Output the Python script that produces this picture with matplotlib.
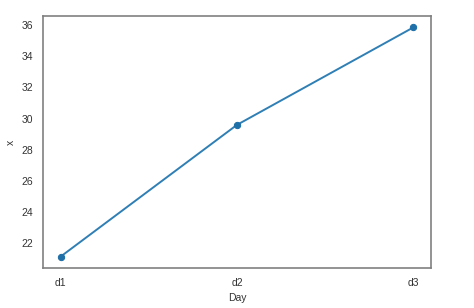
import matplotlib
matplotlib.use('Agg')
import matplotlib.pyplot as plt
import seaborn as sns
import pandas as pd

days = ['d1', 'd2', 'd3']
x_vals = [21.15, 29.6, 35.85]

sns.set_style('white')
plt.rcParams['font.family'] = ['Arial', 'Liberation Sans', 'DejaVu Sans']

data = pd.DataFrame({'Day': days, 'x': x_vals})

fig = plt.figure(figsize=(4.74, 3.08), dpi=100)
ax = fig.add_axes([0.091, 0.13, 0.818, 0.818])
sns.lineplot(data=data, x='Day', y='x', marker='o', markersize=4.5,
             color='#2f7fb5', markeredgecolor='#1f6fa8', markerfacecolor='#1f6fa8',
             linewidth=1.4, ax=ax)

ax.set_yticks([22, 24, 26, 28, 30, 32, 34, 36])
ax.tick_params(labelsize=7.5, colors='#333333')
ax.set_xlabel('Day', fontsize=7.5, color='#333333')
ax.set_ylabel('x', fontsize=7.5, color='#333333')
for s in ax.spines.values():
    s.set_color('#808080')
    s.set_linewidth(1.2)

fig.savefig('out.png', dpi=100)
